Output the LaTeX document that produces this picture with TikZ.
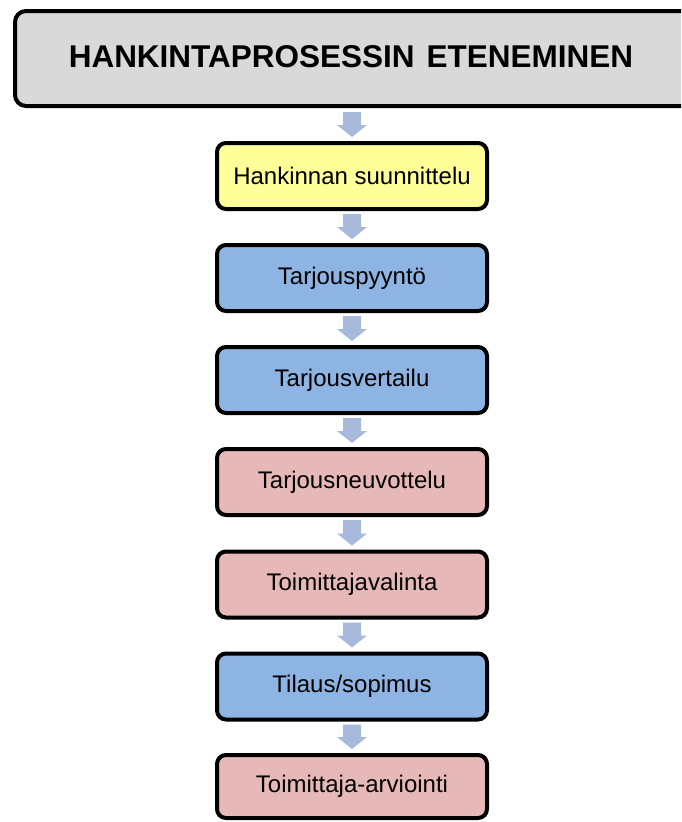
\documentclass[tikz,border=0pt]{standalone}
\usepackage{fontspec}
\setmainfont{Liberation Sans}
\usetikzlibrary{calc}
\definecolor{topgray}{HTML}{D9D9D9}
\definecolor{yel}{HTML}{FFFF99}
\definecolor{blu}{HTML}{8DB4E2}
\definecolor{pnk}{HTML}{E6B8B7}
\definecolor{arr}{HTML}{A7BADB}
\tikzset{
  stepbox/.style={draw=black, line width=4pt, rounded corners=9pt,
    minimum width=270pt, minimum height=66pt, inner sep=0pt,
    font=\fontsize{24}{28}\selectfont},
  titlebox/.style={draw=black, line width=4pt, rounded corners=11pt,
    fill=topgray, minimum width=720pt, minimum height=95pt, inner sep=0pt, anchor=west},
}
% with y=-1pt positive y offsets go downwards
\newcommand{\flowarrow}[2]{%
  \fill[arr] ($(#1.south)+(-9,3)$) -- ($(#1.south)+(9,3)$) --
    ($(#2.north)+(9,-16)$) -- ($(#2.north)+(15,-16)$) -- ($(#2.north)+(0,-4)$) --
    ($(#2.north)+(-15,-16)$) -- ($(#2.north)+(-9,-16)$) -- cycle;}
\begin{document}
\begin{tikzpicture}[x=1pt,y=-1pt]
\useasboundingbox (0,0) rectangle (681,822);
\clip (0,0) rectangle (681,822);
\node[titlebox] (top) at (13,58.5) {};
\node[font=\fontsize{31.5}{36}\selectfont\bfseries] (title) at (351,57) {HANKINTAPROSESSIN\hspace{12pt}ETENEMINEN};
\coordinate (topb) at (352,106);
\node[stepbox, fill=yel] (b1) at (352,176) {Hankinnan suunnittelu};
\node[stepbox, fill=blu] (b2) at (352,278) {Tarjouspyyntö};
\node[stepbox, fill=blu] (b3) at (352,380) {Tarjousvertailu};
\node[stepbox, fill=pnk] (b4) at (352,482) {Tarjousneuvottelu};
\node[stepbox, fill=pnk] (b5) at (352,584.5) {Toimittajavalinta};
\node[stepbox, fill=blu] (b6) at (352,686.5) {Tilaus/sopimus};
\node[stepbox, fill=pnk, minimum height=63pt] (b7) at (352,786.5) {Toimittaja-arviointi};
\fill[arr] ($(topb)+(-9,6)$) -- ($(topb)+(9,6)$) --
    ($(b1.north)+(9,-16)$) -- ($(b1.north)+(15,-16)$) -- ($(b1.north)+(0,-4)$) --
    ($(b1.north)+(-15,-16)$) -- ($(b1.north)+(-9,-16)$) -- cycle;
\flowarrow{b1}{b2}
\flowarrow{b2}{b3}
\flowarrow{b3}{b4}
\flowarrow{b4}{b5}
\flowarrow{b5}{b6}
\flowarrow{b6}{b7}
\end{tikzpicture}
\end{document}
